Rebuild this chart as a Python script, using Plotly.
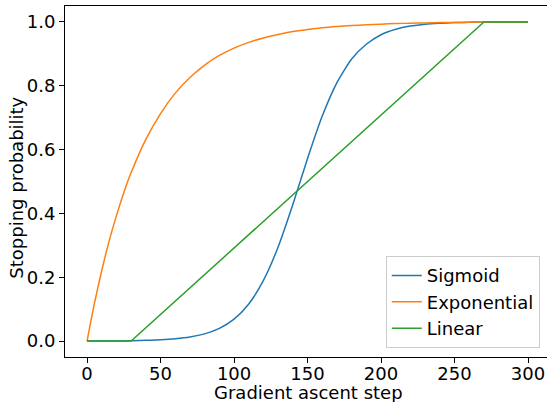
import plotly.graph_objects as go

steps = [0, 5, 10, 15, 20, 25, 30, 40, 50, 60, 70, 80, 90, 100, 110, 120, 130, 140,
         150, 160, 170, 180, 190, 200, 210, 220, 230, 240, 250, 260, 270, 280, 290, 300]

sigmoid = [0.0, 0.0, 0.0, 0.0, 0.0, 0.0, 0.0013, 0.0023, 0.004, 0.0072, 0.0127, 0.0225,
           0.0395, 0.0685, 0.116, 0.19, 0.295, 0.428, 0.572, 0.705, 0.81, 0.884, 0.93,
           0.96, 0.977, 0.987, 0.993, 0.996, 0.998, 0.999, 1.0, 1.0, 1.0, 1.0]

exponential = [0.0, 0.118, 0.221, 0.313, 0.393, 0.465, 0.528, 0.632, 0.713, 0.777, 0.826,
               0.865, 0.895, 0.918, 0.936, 0.950, 0.961, 0.970, 0.976, 0.982, 0.986,
               0.989, 0.991, 0.993, 0.995, 0.996, 0.997, 0.998, 0.998, 0.999, 1.0,
               1.0, 1.0, 1.0]

linear_steps = [0, 30, 270, 300]
linear = [0.0, 0.0, 1.0, 1.0]

x_ticks = [0, 50, 100, 150, 200, 250, 300]
y_ticks = [0.0, 0.2, 0.4, 0.6, 0.8, 1.0]

font = "DejaVu Sans"
fs = 18

fig = go.Figure()
fig.add_trace(go.Scatter(x=steps, y=sigmoid, mode="lines", name="Sigmoid",
                         line=dict(color="#1f77b4", width=1.5, shape="spline", smoothing=0.6)))
fig.add_trace(go.Scatter(x=steps, y=exponential, mode="lines", name="Exponential",
                         line=dict(color="#ff7f0e", width=1.5, shape="spline", smoothing=0.6)))
fig.add_trace(go.Scatter(x=linear_steps, y=linear, mode="lines", name="Linear",
                         line=dict(color="#2ca02c", width=1.5)))

fig.update_layout(
    width=547, height=402,
    margin=dict(l=65, r=0, t=6, b=45, autoexpand=False),
    paper_bgcolor="white", plot_bgcolor="white",
    font=dict(family=font, size=fs, color="black"),
    showlegend=True,
    legend=dict(x=0.985, y=0.025, xanchor="right", yanchor="bottom",
                bgcolor="rgba(255,255,255,0.8)", bordercolor="#cccccc", borderwidth=1,
                font=dict(family=font, size=fs, color="black")),
    annotations=[
        dict(text="Gradient ascent step", xref="paper", yref="paper", x=0.505, y=0,
             xanchor="center", yanchor="middle", yshift=-35, showarrow=False,
             font=dict(family=font, size=fs, color="black")),
        dict(text="Stopping probability", xref="paper", yref="paper", x=0, y=0.481,
             xanchor="center", yanchor="middle", xshift=-48.5, textangle=-90, showarrow=False,
             font=dict(family=font, size=fs, color="black")),
    ],
)
fig.update_xaxes(range=[-15, 312.9], tickvals=x_ticks, ticktext=[str(v) for v in x_ticks],
                 automargin=False, ticklabelstandoff=-5,
                 showgrid=False, zeroline=False, showline=True, linecolor="black", linewidth=1,
                 mirror=True, ticks="outside", ticklen=5, tickcolor="black",
                 tickfont=dict(family=font, size=fs, color="black"))
fig.update_yaxes(range=[-0.05, 1.05], tickvals=y_ticks, ticktext=[f"{v:.1f}" for v in y_ticks],
                 automargin=False,
                 showgrid=False, zeroline=False, showline=True, linecolor="black", linewidth=1,
                 mirror=False, ticks="outside", ticklen=5, tickcolor="black",
                 tickfont=dict(family=font, size=fs, color="black"))

fig.write_html("out.html", config={"displayModeBar": False},
               post_script="document.body.style.margin='0';document.body.style.overflow='hidden';")
